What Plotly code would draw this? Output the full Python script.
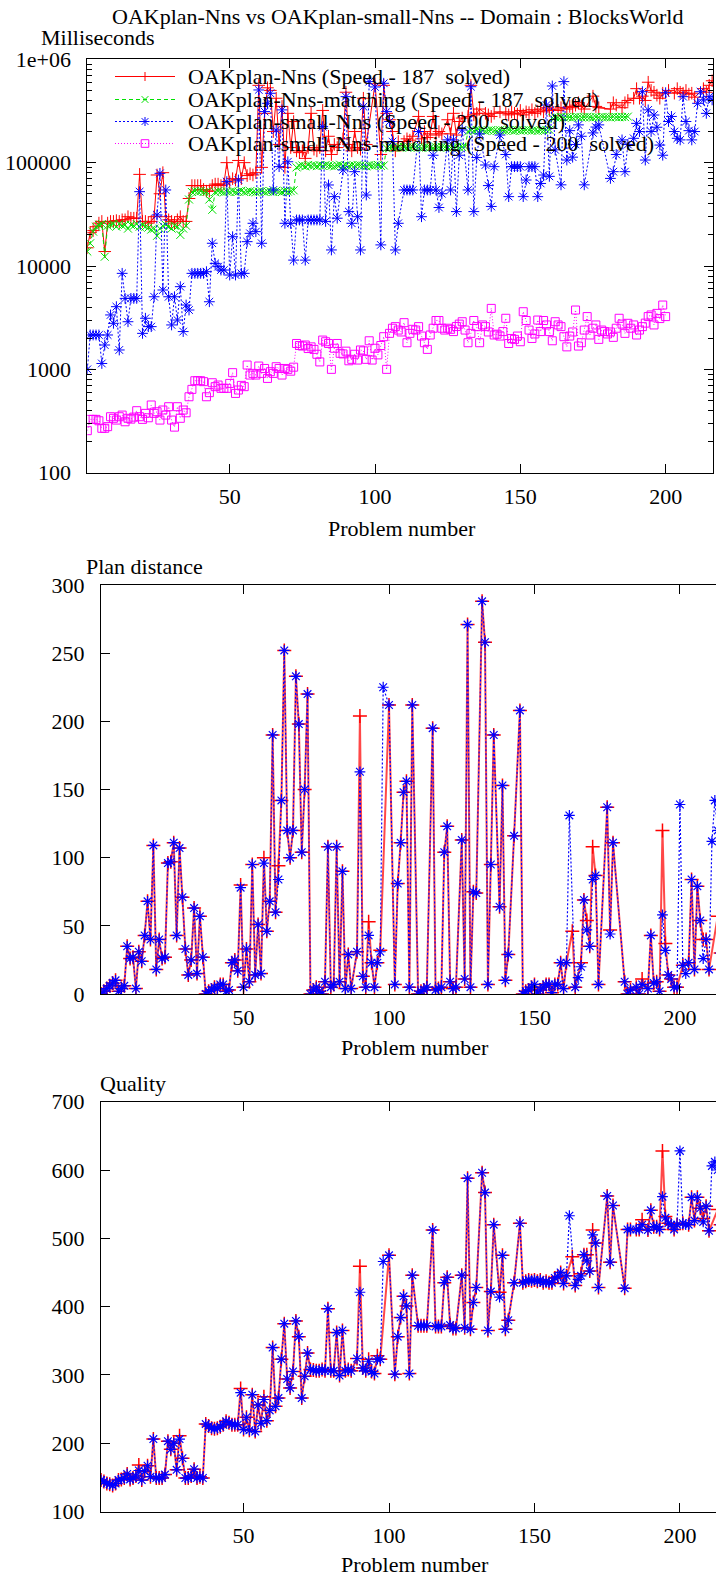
import plotly.graph_objects as go

N = None
W, H = 716, 1577
FONT = "Liberation Serif"

# ---------------- data ----------------
problems = list(range(1, 217))

time_nns = [
    15000, 21000, 22000, 24000, 26000, 27000, 13800, 26000, 27000, 27000,
    27500, 27000, 28000, 28000, 30000, 29000, 29000, 29000, 77000, 27000,
    27000, 26000, 27000, 30000, 76000, 50000, 80000, 30000, 28000, 27000,
    26000, 28000, 30000, 27000, 27000, 45000, 60000, 60000, 60000, 60000,
    55000, 53000, 53000, 60000, 62000, 62000, 60000, 62000, 100000, 65000,
    70000, 68000, 105000, 70000, 100000, 75000, 78000, 76000, 80000, 560000,
    90000, 300000, 530000, 500000, 200000, 420000, 150000, 350000, 90000, 300000,
    140000, 250000, 130000, 125000, 130000, 110000, 140000, 300000, 135000, 130000,
    140000, 320000, 130000, 180000, 120000, 150000, 140000, N, 170000, 480000,
    150000, 130000, 200000, 140000, 135000, 420000, 150000, N, N, 580000,
    N, 120000, 560000, 300000, 260000, 200000, 130000, 160000, N, 160000,
    170000, 165000, 180000, N, 280000, 170000, 200000, 175000, 190000, 280000,
    185000, 200000, 190000, N, 260000, 190000, 300000, 185000, 250000, 270000,
    N, 280000, 560000, 290000, 300000, 330000, N, 300000, 290000, 280000,
    300000, N, 310000, N, 300000, 290000, 310000, 300000, 295000, 320000,
    290000, 310000, 305000, 325000, 300000, 315000, 330000, 310000, 340000, 320000,
    330000, N, 320000, 340000, N, 330000, 350000, 340000, 360000, 380000,
    350000, 330000, N, N, 440000, 350000, 340000, N, N, N,
    330000, 380000, 360000, N, 340000, 380000, 400000, N, 420000, 520000,
    420000, 440000, 400000, 600000, 500000, 480000, 450000, 420000, 470000, N,
    500000, N, 470000, 520000, 480000, 470000, 500000, 460000, 470000, 430000,
    N, N, 520000, 480000, 560000, 620000,
]

time_small = [
    1000, 2150, 2150, 2150, 2150, 1140, 1720, 2150, 3360, 2790,
    4040, 1540, 8490, 4860, 2890, 4860, 4860, 4860, 52400, 2230,
    3120, 2590, 2590, 5040, 31200, 78800, 5860, 54400, 5040, 2690,
    5040, 3000, 6310, 2320, 4190, 3750, 8490, 8490, 8490, 8490,
    8490, 8810, 4510, 16600, 10600, 9860, 9140, 9140, 65500, 8180,
    19200, 8180, 67900, 8490, 8490, 17200, 20700, 25900, 21500, 505000,
    16600, 312000, 375000, 469000, 54400, 207000, 91500, 324000, 25900, 102000,
    25900, 11400, 27900, 27900, 27900, 11400, 27900, 27900, 27900, 27900,
    27900, 223000, 27000, 60800, 14300, 46900, 29000, N, 85000, 435000,
    33600, 25900, 81800, 30000, 14300, 348000, 48600, 608000, N, 540000,
    N, 16000, 586000, 312000, 250000, 160000, 14300, 25900, N, 54400,
    54400, 54400, 54400, N, 200000, 30000, 54400, 54400, 54400, 118000,
    54400, 36800, 50000, N, 166000, 54400, 166000, 33600, 118000, 207000,
    N, 54400, 543000, 33600, 112000, 190000, N, 94900, 60000, 37700,
    91500, N, 185000, N, 120000, 46900, 91500, 91500, 91500, 91500,
    46900, 67900, 91500, 91500, 91500, 46900, 62900, 75900, 361000, 73700,
    552000, 133000, N, 61000, 608000, 106000, 204000, 113000, 150000, 232000,
    180000, 61000, N, N, 194000, 221000, 232000, N, N, N,
    70400, 81800, 120000, N, 166000, 81800, 150000, N, 172000, 240000,
    200000, 486000, 106000, 324000, 200000, 289000, 220000, 148000, 118000, 475000,
    250000, 280000, 200000, 172000, 166000, 435000, 250000, 204000, 166000, 200000,
    375000, 486000, 405000, 300000, 435000, 405000,
]

match_nns = [
    13800, 16600, 21500, 24000, 25000, 25500, 12300, 24500, 25000, 25500,
    24000, 25500, 24500, 25000, 23000, 25000, 24500, 25500, 24000, 25000,
    24000, 23500, 22500, 23000, 19600, 23000, 24500, 25000, 24000, 23000,
    24500, 24000, 20000, 23000, 24500, 44000, 52000, 53000, 52500, 53000,
    52000, 52500, 44000, 35000, 52000, 53000, 52500, 51500, 52500, 52000,
    53000, 52000, 52500, 53500, 52000, 52500, 53000, 52000, 51500, 52500,
    53000, 52000, 52500, 53000, 52000, 53500, 52500, 52000, 53000, 52500,
    53000, 54000, 90000, 93000, 94000, 92000, 95000, 93500, 94000, 92500,
    94500, 93000, 95000, 94000, 93000, 92000, 94000, 95500, 93000, 94000,
    92500, 94000, 93500, 95000, 94000, 93000, 92000, 94500, 93500, 94000,
    95000, 93000, 94000, 138000, 140000, 141000, 139000, 142000, 140000, 141500,
    139500, 140000, 142000, 141000, 140000, 138500, 141000, 142500, 140000, 139000,
    141000, 140500, 142000, 141000, 139500, 140000, 141000, 142000, 140000, 141500,
    143000, 200000, 205000, 203000, 207000, 204000, 206000, 202000, 205000, 207000,
    204000, 203000, 206000, 205000, 204000, 207000, 205000, 203000, 206000, 204000,
    205000, 207000, 206000, 204000, 205000, 203000, 206000, 205000, 207000, 208000,
    272000, 275000, 273000, 277000, 274000, 276000, 275000, 273000, 277000, 275000,
    274000, 276000, 278000, 275000, 273000, 276000, 274000, 277000, 275000, 276000,
    274000, 278000, 276000, 275000, 277000, 276000, 279000,
]

match_small = [
    255, 328, 328, 328, 318, 269, 269, 279, 348, 336,
    323, 348, 361, 311, 336, 330, 345, 398, 348, 328,
    375, 340, 452, 375, 389, 323, 404, 361, 435, 323,
    276, 435, 336, 404, 380, 543, 640, 776, 776, 776,
    760, 543, 595, 742, 680, 705, 655, 655, 655, 731,
    929, 585, 631, 700, 680, 1101, 881, 914, 881, 1076,
    914, 1020, 817, 949, 914, 1060, 1020, 881, 1020, 1000,
    960, 1050, 1780, 1700, 1680, 1720, 1590, 1650, 1560, 1400,
    1180, 1920, 1850, 1780, 1000, 1600, 1780, 1430, 1410, 1500,
    1210, 1250, 1400, 1230, 1540, 1510, 1250, 1890, 1230, 1600,
    1380, 1700, 2070, 1000, 2230, 2500, 2590, 2400, 2300, 2830,
    1810, 2230, 2440, 2400, 2590, 2100, 1810, 1560, 2150, 2500,
    2970, 2970, 2500, 2400, 2500, 2440, 2320, 2600, 2740, 2890,
    2400, 1810, 2230, 2970, 2590, 1810, 2690, 2590, 2300, 3890,
    2150, 2190, 2100, 2320, 3120, 1780, 1990, 1950, 2100, 1850,
    3610, 2970, 2400, 1990, 2200, 3000, 2320, 2970, 2690, 2320,
    1890, 2890, 2690, 2590, 2070, 1650, 2100, 2300, 3750, 1680,
    1810, 2400, 3240, 2150, 2500, 2690, 1950, 2400, 2320, 2200,
    2300, 2040, 2500, 3120, 2740, 2230, 2790, 2500, 2690, 2150,
    2400, 2590, 2800, 3240, 3360, 2690, 3480, 3100, 4190, 3240,
]

dist_nns = [
    0, 2, 4, 6, 8, 10, 2, 4, 6, 35,
    26, 27, 4, 31, 24, 43, 68, 40, 109, 18,
    40, 26, 27, 96, 97, 111, 43, 107, 71, 33,
    14, 25, 63, 15, 57, 27, 0, 2, 3, 5,
    4, 7, 7, 2, 3, 23, 25, 17, 80, 5,
    33, 9, 95, 14, 51, 15, 100, 46, 68, 190,
    60, 94, 142, 252, 120, 100, 120, 233, 198, 104,
    150, 220, 0, 3, 5, 2, 0, 9, 108, 5,
    7, 108, 9, 90, 4, 29, 4, N, 31, 204,
    13, 5, 53, 23, 5, 23, 32, N, N, 212,
    N, 7, 81, 111, 148, 156, 5, 212, N, 0,
    2, 3, 5, N, 195, 3, 4, 5, 104, 123,
    9, 4, 5, N, 113, 11, 271, 5, 75, 74,
    N, 288, 258, 7, 95, 190, N, 64, 153, 10,
    29, N, 116, N, 208, 0, 2, 3, 5, 7,
    0, 3, 5, 7, 7, 1, 7, 7, 23, 4,
    23, N, 46, 5, N, 23, 69, 54, 35, 108,
    87, 7, N, N, 137, 47, 111, N, N, N,
    9, 0, 3, N, 5, 0, 11, N, 4, 43,
    8, 9, 2, 120, 37, 14, 11, 5, 5, N,
    21, N, 23, 84, 18, 79, 54, 40, 40, 18,
    N, N, 57, 30, 60, 90,
]

dist_small = [
    0, 2, 4, 6, 8, 10, 2, 4, 6, 35,
    26, 27, 4, 31, 24, 43, 68, 40, 109, 18,
    40, 26, 27, 96, 97, 111, 43, 107, 71, 33,
    14, 25, 63, 15, 57, 27, 0, 2, 3, 5,
    4, 7, 7, 2, 3, 23, 25, 17, 78, 5,
    33, 9, 95, 14, 51, 15, 96, 46, 68, 190,
    60, 84, 142, 252, 120, 100, 120, 233, 198, 104,
    150, 220, 0, 3, 5, 2, 0, 9, 108, 5,
    7, 108, 9, 90, 4, 29, 4, N, 31, 163,
    13, 5, 43, 23, 5, 23, 31, 225, N, 212,
    N, 7, 81, 111, 148, 156, 5, 212, N, 0,
    2, 3, 5, N, 195, 3, 4, 5, 104, 123,
    9, 4, 5, N, 113, 11, 271, 5, 75, 74,
    N, 288, 258, 7, 95, 190, N, 64, 153, 10,
    29, N, 116, N, 208, 0, 2, 3, 5, 7,
    0, 3, 5, 7, 7, 1, 7, 7, 23, 4,
    23, 131, N, 5, 12, 20, 69, 47, 35, 84,
    87, 7, N, N, 137, 44, 111, N, N, N,
    9, 0, 3, N, 5, 0, 7, N, 4, 43,
    8, 9, 2, 58, 32, 14, 11, 5, 5, 139,
    21, 15, 23, 84, 18, 79, 54, 26, 40, 18,
    112, 142, 120, 30, 60, 90,
]

qual_nns = [
    146, 144, 141, 140, 138, 141, 146, 147, 149, 155,
    147, 149, 152, 168, 146, 159, 167, 151, 206, 149,
    149, 149, 154, 203, 191, 200, 161, 211, 178, 149,
    149, 152, 162, 149, 151, 149, 228, 225, 222, 221,
    222, 224, 227, 232, 230, 227, 227, 227, 280, 220,
    238, 219, 271, 217, 256, 229, 268, 233, 248, 340,
    254, 266, 323, 375, 294, 281, 305, 379, 356, 266,
    298, 332, 308, 307, 306, 306, 308, 306, 397, 306,
    306, 362, 299, 365, 306, 308, 306, N, 324, 459,
    310, 306, 323, 305, 302, 328, 323, N, N, 475,
    N, 301, 356, 384, 415, 401, 302, 446, N, 372,
    372, 372, 372, N, 512, 371, 371, 371, 435, 443,
    373, 368, 368, N, 446, 369, 588, 367, 406, 428,
    N, 596, 567, 365, 422, 520, N, 421, 475, 367,
    380, N, 435, N, 522, 435, 437, 439, 438, 439,
    437, 439, 435, 437, 435, 435, 442, 444, 450, 434,
    445, N, 473, 431, N, 448, 476, 476, 452, 512,
    493, 428, N, N, 562, 465, 548, N, N, N,
    427, 513, 513, N, 513, 513, 527, N, 512, 541,
    517, 517, 513, 628, 532, 522, 520, 513, 520, N,
    522, N, 520, 560, 526, 560, 544, 529, 547, 511,
    N, N, 542, 520, 530, 560,
]

qual_small = [
    146, 144, 141, 140, 138, 141, 146, 147, 149, 155,
    147, 149, 152, 160, 146, 159, 167, 151, 206, 149,
    149, 149, 154, 203, 191, 200, 161, 206, 178, 149,
    149, 152, 162, 149, 151, 149, 228, 225, 222, 221,
    222, 224, 227, 232, 230, 227, 227, 227, 274, 220,
    238, 219, 271, 217, 256, 229, 264, 233, 248, 340,
    254, 266, 323, 375, 294, 281, 305, 379, 356, 266,
    298, 332, 308, 307, 306, 306, 308, 306, 397, 306,
    306, 362, 299, 365, 306, 308, 306, N, 324, 421,
    310, 306, 320, 305, 302, 323, 323, 466, N, 475,
    N, 301, 356, 384, 415, 401, 302, 446, N, 372,
    372, 372, 372, N, 512, 371, 371, 371, 435, 443,
    373, 368, 368, N, 446, 369, 588, 367, 406, 428,
    N, 596, 567, 365, 422, 520, N, 414, 475, 367,
    380, N, 435, N, 522, 435, 437, 439, 438, 439,
    437, 439, 435, 437, 435, 435, 442, 444, 450, 434,
    445, 533, N, 431, 440, 445, 476, 467, 452, 505,
    493, 428, N, N, 562, 465, 548, N, N, N,
    427, 513, 513, N, 513, 513, 520, N, 512, 541,
    517, 517, 513, 561, 530, 522, 520, 513, 520, 628,
    522, 520, 520, 560, 526, 560, 544, 524, 547, 511,
    606, 612, 600, 520, 530, 560,
]

legend_labels = [
    "OAKplan-Nns (Speed - 187\u00a0 solved)",
    "OAKplan-Nns-matching (Speed - 187\u00a0 solved)",
    "OAKplan-small-Nns (Speed - 200\u00a0 solved)",
    "OAKplan-small-Nns-matching (Speed - 200\u00a0 solved)",
]
title_text = "OAKplan-Nns vs OAKplan-small-Nns -- Domain : BlocksWorld"

# ---------------- styles ----------------
RED, GREEN, BLUE, MAG = "#ff0000", "#00e000", "#0000ff", "#ff00ff"


def xs(arr):
    return list(range(1, len(arr) + 1))


fig = go.Figure()

# Panel 1: times
fig.add_trace(go.Scatter(x=xs(time_nns), y=time_nns, mode="lines+markers", connectgaps=True,
                         line=dict(color=RED, width=1),
                         marker=dict(symbol="cross-thin", size=9, color=RED, line=dict(width=1, color=RED)),
                         xaxis="x", yaxis="y", showlegend=False))
fig.add_trace(go.Scatter(x=xs(match_nns), y=match_nns, mode="lines+markers", connectgaps=True,
                         line=dict(color=GREEN, width=1, dash="4px,3px"),
                         marker=dict(symbol="x-thin", size=8, color=GREEN, line=dict(width=1, color=GREEN)),
                         xaxis="x", yaxis="y", showlegend=False))
fig.add_trace(go.Scatter(x=xs(time_small), y=time_small, mode="lines+markers", connectgaps=True,
                         line=dict(color=BLUE, width=1, dash="2px,2px"),
                         marker=dict(symbol="asterisk-open", size=9, color=BLUE, line=dict(width=1, color=BLUE)),
                         xaxis="x", yaxis="y", showlegend=False))
fig.add_trace(go.Scatter(x=xs(match_small), y=match_small, mode="lines+markers", connectgaps=True,
                         line=dict(color=MAG, width=1, dash="1px,2px"),
                         marker=dict(symbol="square-open", size=8, color=MAG, line=dict(width=1, color=MAG)),
                         xaxis="x", yaxis="y", showlegend=False))

# Panels 2 and 3: plan distance, quality
for xa, ya, rv, bv in (("x2", "y2", dist_nns, dist_small), ("x3", "y3", qual_nns, qual_small)):
    fig.add_trace(go.Scatter(x=xs(rv), y=rv, mode="lines+markers", connectgaps=True,
                             line=dict(color="rgba(255,40,40,0.85)", width=2),
                             marker=dict(symbol="cross-thin", size=10, color=RED, line=dict(width=1.5, color=RED)),
                             xaxis=xa, yaxis=ya, showlegend=False))
    fig.add_trace(go.Scatter(x=xs(bv), y=bv, mode="lines+markers", connectgaps=True,
                             line=dict(color=BLUE, width=1.2, dash="2px,2px"),
                             marker=dict(symbol="asterisk-open", size=9, color=BLUE, line=dict(width=1.2, color=BLUE)),
                             xaxis=xa, yaxis=ya, showlegend=False))


def px2paper(px, py):
    return px / W, 1 - py / H


def dom_x(a, b):
    return [a / W, b / W]


def dom_y(top, bottom):
    return [1 - bottom / H, 1 - top / H]


tickfont = dict(family=FONT, size=22, color="black")
common_x = dict(showline=True, linecolor="black", linewidth=1, mirror="ticks", ticks="inside",
                ticklen=9, tickwidth=1, tickcolor="black", showgrid=False, zeroline=False,
                tickmode="array", tickvals=[50, 100, 150, 200], ticktext=["50", "100", "150", "200"],
                tickfont=tickfont, ticklabelstandoff=4)
common_y = dict(showline=True, linecolor="black", linewidth=1, ticks="inside", ticklen=9,
                tickwidth=1, tickcolor="black", showgrid=False, zeroline=False,
                tickfont=tickfont, ticklabelstandoff=11)

minor_vals = [m * 10 ** e for e in range(2, 6) for m in range(2, 10)]

fig.update_layout(
    width=W, height=H, autosize=False,
    margin=dict(l=0, r=0, t=0, b=0, pad=0, autoexpand=False),
    paper_bgcolor="white", plot_bgcolor="white",
    font=dict(family=FONT, size=22, color="black"),
    showlegend=False,
    xaxis=dict(common_x, domain=dom_x(87.3, 713), range=[1, 216.3], anchor="y"),
    yaxis=dict(common_y, domain=dom_y(59.3, 472.7), type="log", range=[2, 6], anchor="x",
               mirror="ticks", tickmode="array",
               tickvals=[100, 1000, 10000, 100000, 1000000],
               ticktext=["100", "1000", "10000", "100000", "1e+06"],
               minor=dict(ticks="inside", ticklen=5, tickcolor="black", tickmode="array",
                          tickvals=minor_vals, showgrid=False)),
    xaxis2=dict(common_x, domain=dom_x(101, 716), range=[1, 212.4], anchor="y2"),
    yaxis2=dict(common_y, domain=dom_y(585, 994), range=[0, 300], anchor="x2", mirror=False,
                tickmode="array", tickvals=[0, 50, 100, 150, 200, 250, 300]),
    xaxis3=dict(common_x, domain=dom_x(101, 716), range=[1, 212.4], anchor="y3"),
    yaxis3=dict(common_y, domain=dom_y(1101.7, 1511.5), range=[100, 700], anchor="x3", mirror=False,
                tickmode="array", tickvals=[100, 200, 300, 400, 500, 600, 700]),
)

annotations = []


def text_at(txt, px, py, xanchor="left", size=22):
    x, y = px2paper(px, py)
    annotations.append(dict(text=txt, x=x, y=y, xref="paper", yref="paper", xanchor=xanchor,
                            yanchor="middle", showarrow=False, borderpad=0,
                            font=dict(family=FONT, size=size, color="black")))


text_at(title_text, 397, 16, "center")
text_at("Milliseconds", 40, 37)
text_at("Problem number", 402, 528, "center")
text_at("Plan distance", 85, 566)
text_at("Problem number", 415, 1047, "center")
text_at("Quality", 99, 1083)
text_at("Problem number", 415, 1564, "center")

# manual legend (gnuplot style: long sample line, marker in middle, text to the right)
shapes = []
leg_rows = [76.5, 99.5, 121.5, 143.5]
leg_colors = [RED, GREEN, BLUE, MAG]
leg_dash = ["solid", "4px,3px", "2px,2px", "1px,2px"]
leg_sym = ["plus", "x", "asterisk", "square"]
for lab, ry, col, dsh, sym in zip(legend_labels, leg_rows, leg_colors, leg_dash, leg_sym):
    x0, y0 = px2paper(115, ry)
    x1, _ = px2paper(175, ry)
    shapes.append(dict(type="line", xref="paper", yref="paper", x0=x0, y0=y0, x1=x1, y1=y0,
                       line=dict(color=col, width=1, dash=dsh)))
    cx, cy, h = 145, ry, 4.5
    segs = []
    if sym in ("plus", "asterisk"):
        segs += [((cx - h, cy), (cx + h, cy)), ((cx, cy - h), (cx, cy + h))]
    if sym in ("x", "asterisk"):
        hh = h * 0.75
        segs += [((cx - hh, cy - hh), (cx + hh, cy + hh)), ((cx - hh, cy + hh), (cx + hh, cy - hh))]
    for (a, b) in segs:
        ax0, ay0 = px2paper(*a)
        ax1, ay1 = px2paper(*b)
        shapes.append(dict(type="line", xref="paper", yref="paper", x0=ax0, y0=ay0, x1=ax1, y1=ay1,
                           line=dict(color=col, width=1)))
    if sym == "square":
        s = 3.8
        ax0, ay0 = px2paper(cx - s, cy + s)
        ax1, ay1 = px2paper(cx + s, cy - s)
        shapes.append(dict(type="rect", xref="paper", yref="paper", x0=ax0, y0=ay0, x1=ax1, y1=ay1,
                           line=dict(color=col, width=1), fillcolor="rgba(0,0,0,0)"))
    text_at(lab, 187, ry)

fig.update_layout(annotations=annotations, shapes=shapes)

fig.write_html("out.html")
